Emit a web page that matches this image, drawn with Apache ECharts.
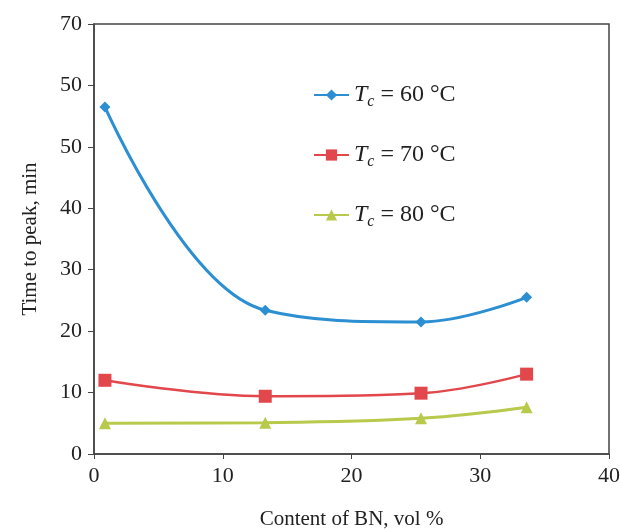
<html>
<head>
    <meta charset="utf-8">
    <script src="https://cdn.jsdelivr.net/npm/echarts@6/dist/echarts.min.js"></script>
</head>
<body style="height: 100%; margin: 0">
    <div id="container" style="width: 621px; height: 532px"></div>
    <script>
        // BN content (vol %) and time to peak (min)
        var bnContent = [0.85, 13.3, 25.4, 33.6];
        var tc60 = [56.5, 23.4, 21.5, 25.5];
        var tc70 = [12.0, 9.4, 9.9, 13.0];
        var tc80 = [5.0, 5.1, 5.8, 7.6];
        var seriesNames = ['60', '70', '80'];
        // the original figure prints "50" twice on the y axis
        var yTickLabels = ['0', '10', '20', '30', '40', '50', '50', '70'];

        var font = '"Liberation Serif", "DejaVu Serif", serif';

        function pairs(ys) {
            return ys.map(function (y, i) { return [bnContent[i], y]; });
        }

        var dom = document.getElementById('container');
        var myChart = echarts.init(dom);

        var styles = [
            { color: '#2b8fd2', symbol: 'diamond', size: 11, width: 3 },
            { color: '#e1474b', symbol: 'rect', size: 13, width: 2.5 },
            { color: '#b8c94c', symbol: 'triangle', size: 12, width: 3 }
        ];
        var data = [tc60, tc70, tc80];

        var series = seriesNames.map(function (n, i) {
            return {
                name: n,
                type: 'line',
                smooth: 0.4,
                data: pairs(data[i]),
                symbol: styles[i].symbol,
                symbolSize: styles[i].size,
                itemStyle: { color: styles[i].color },
                lineStyle: { color: styles[i].color, width: styles[i].width }
            };
        });

        var option = {
            animation: false,
            backgroundColor: '#fff',
            grid: {
                left: 94, right: 12, top: 24, bottom: 78,
                outerBoundsMode: 'none',
                containLabel: false,
                show: true, borderColor: '#444', borderWidth: 1.5
            },
            legend: {
                orient: 'vertical',
                left: 308,
                top: 78,
                itemGap: 33,
                itemWidth: 35,
                itemHeight: 14,
                data: seriesNames,
                formatter: function (name) {
                    return '{i|T}{s|c}{t| = ' + name + ' °C}';
                },
                textStyle: {
                    rich: {
                        i: { fontFamily: font, fontStyle: 'italic', fontSize: 24, color: '#222' },
                        s: { fontFamily: font, fontStyle: 'italic', fontSize: 16, color: '#222', verticalAlign: 'bottom', padding: [14, 0, 0, 0] },
                        t: { fontFamily: font, fontSize: 24, color: '#222' }
                    }
                }
            },
            xAxis: {
                type: 'value',
                min: 0, max: 40, interval: 10,
                name: 'Content of BN, vol %',
                nameLocation: 'middle',
                nameGap: 55,
                nameTextStyle: { fontFamily: font, fontSize: 21, color: '#222' },
                axisLine: { lineStyle: { color: '#444', width: 1.5 } },
                axisTick: { length: 5, lineStyle: { color: '#444' } },
                axisLabel: { fontFamily: font, fontSize: 22, color: '#222', margin: 11 },
                splitLine: { show: false }
            },
            yAxis: {
                type: 'value',
                min: 0, max: 70, interval: 10,
                name: 'Time to peak, min',
                nameLocation: 'middle',
                nameGap: 53,
                nameTextStyle: { fontFamily: font, fontSize: 21, color: '#222' },
                axisLine: { show: true, lineStyle: { color: '#444', width: 1.5 } },
                axisTick: { show: true, length: 6, lineStyle: { color: '#444' } },
                axisLabel: {
                    fontFamily: font, fontSize: 22, color: '#222', margin: 12,
                    formatter: function (v) { return yTickLabels[Math.round(v / 10)]; }
                },
                splitLine: { show: false }
            },
            series: series
        };

        myChart.setOption(option);
    </script>
</body>
</html>
